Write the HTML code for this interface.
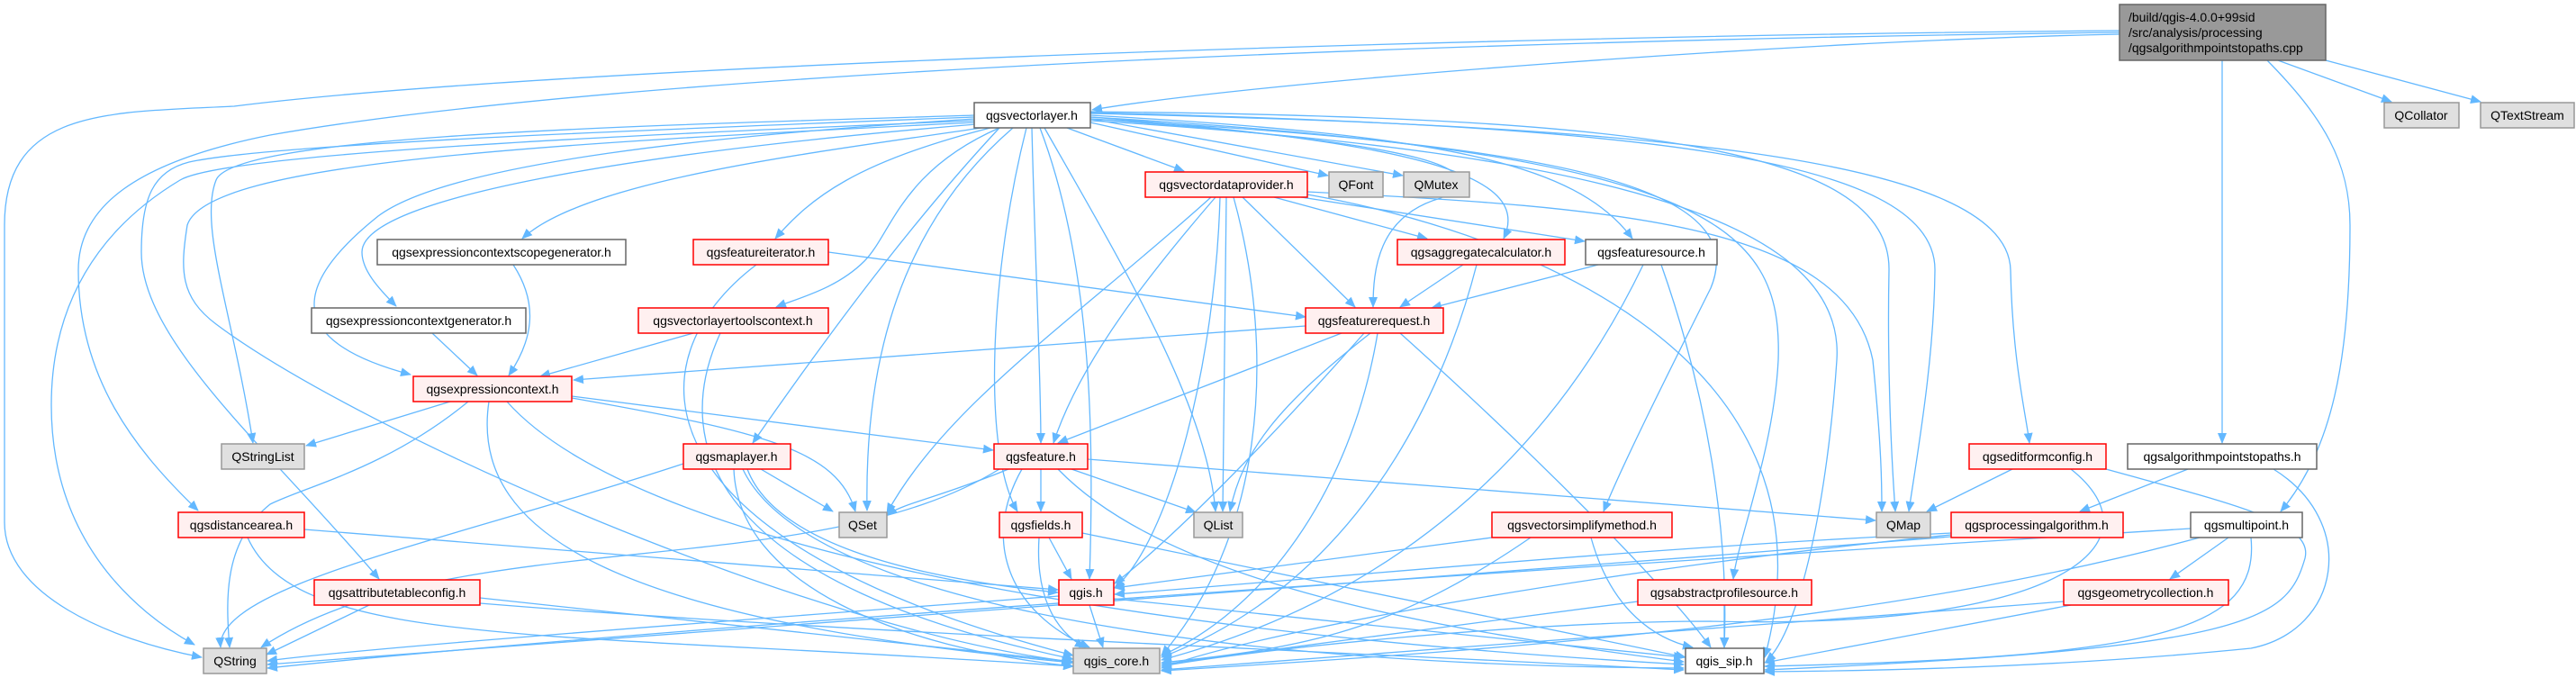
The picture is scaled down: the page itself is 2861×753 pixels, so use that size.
<!DOCTYPE html>
<html><head><meta charset="utf-8"><style>
html,body{margin:0;padding:0;background:#fff;width:2861px;height:753px;overflow:hidden}
svg{display:block}
text{font-family:"Liberation Sans",sans-serif;font-size:14px;fill:#000}
.e{fill:none;stroke:#63b8ff;stroke-width:1.3;marker-end:url(#a)}
.r{fill:#fff0f0;stroke:#ff0000;stroke-width:1.5}
.g{fill:#e0e0e0;stroke:#999;stroke-width:1.5}
.w{fill:#fff;stroke:#666;stroke-width:1.5}
.m{fill:#999;stroke:#666;stroke-width:1.5}
</style></head><body>
<svg width="2861" height="753" viewBox="0 0 2861 753">
<defs><marker id="a" markerUnits="userSpaceOnUse" markerWidth="12" markerHeight="10" refX="11" refY="5" orient="auto"><path d="M0,0 L12,5 L0,10 z" fill="#63b8ff"/></marker></defs>
<g>
<!-- main -->
<path class="e" d="M2354,38 C2000,45 1400,90 1213,122"/>
<path class="e" d="M2354,34 C1600,40 600,75 260,118 C120,125 5,120 5,250 L5,580 C5,660 120,710 224,730"/>
<path class="e" d="M2354,36 C1600,45 700,80 300,150 C150,180 87,230 87,300 C87,420 150,500 220,567"/>
<path class="e" d="M2530,67 L2656,113"/>
<path class="e" d="M2583,67 L2755,113"/>
<path class="e" d="M2468,67 L2468,492"/>
<path class="e" d="M2518,67 C2580,130 2610,180 2610,250 C2610,400 2590,500 2533,568"/>
<!-- vectorlayer -->
<path class="e" d="M1185,142 L1315,190"/>
<path class="e" d="M1211,136 L1475,195"/>
<path class="e" d="M1211,132 L1558,195"/>
<path class="e" d="M1211,130 C1600,160 1700,200 1670,265"/>
<path class="e" d="M1211,128 C1600,150 1750,180 1813,265"/>
<path class="e" d="M1211,132 C1600,160 1660,190 1600,220 C1530,240 1525,300 1525,341"/>
<path class="e" d="M1090,142 C900,170 650,200 580,265"/>
<path class="e" d="M1084,138 C700,170 402,220 402,280 C402,300 420,320 440,340"/>
<path class="e" d="M1100,142 C950,180 900,220 861,265"/>
<path class="e" d="M1110,142 C1000,190 990,260 960,290 C930,320 890,330 862,341"/>
<path class="e" d="M1082,132 C800,150 500,180 420,240 C320,320 320,380 456,416"/>
<path class="e" d="M1082,130 C700,145 300,160 210,180 C170,190 157,220 157,280 C157,380 300,500 421,643"/>
<path class="e" d="M1082,128 C700,140 260,150 240,200 C220,250 259,350 281,492"/>
<path class="e" d="M1082,134 C700,150 250,170 200,200 C150,230 57,300 57,450 C57,600 150,680 216,716"/>
<path class="e" d="M1082,136 C600,160 230,180 208,250 C200,300 200,330 240,360 C400,480 900,700 1190,735"/>
<path class="e" d="M1110,142 C1000,260 900,400 836,492"/>
<path class="e" d="M1125,142 C1000,250 960,400 963,567"/>
<path class="e" d="M1146,142 C1150,300 1156,420 1156,492"/>
<path class="e" d="M1140,142 C1100,300 1090,500 1130,568"/>
<path class="e" d="M1155,142 C1215,300 1215,500 1210,643"/>
<path class="e" d="M1160,142 C1250,300 1340,450 1350,568"/>
<path class="e" d="M1211,124 C1800,130 2100,160 2098,300 C2096,400 2100,500 2105,568"/>
<path class="e" d="M1211,125 C1800,140 2150,170 2149,300 C2148,400 2130,500 2120,568"/>
<path class="e" d="M1211,126 C1800,140 2230,170 2233,300 C2235,400 2250,460 2254,492"/>
<path class="e" d="M1211,132 C1700,160 1950,200 1900,320 C1850,420 1800,520 1781,568"/>
<path class="e" d="M1211,130 C1900,170 1980,250 1975,400 C1970,500 1930,600 1925,643"/>
<path class="e" d="M1211,134 C1800,170 2050,250 2040,400 C2030,550 2000,700 1961,735"/>
<!-- vectordataprovider -->
<path class="e" d="M1380,219 L1505,341"/>
<path class="e" d="M1415,219 L1585,265"/>
<path class="e" d="M1445,219 L1760,268"/>
<path class="e" d="M1452,213 C1800,230 2050,250 2080,400 C2090,500 2090,540 2090,568"/>
<path class="e" d="M1350,219 C1280,300 1200,400 1170,492"/>
<path class="e" d="M1345,219 C1200,350 1050,450 985,570"/>
<path class="e" d="M1362,219 L1358,568"/>
<path class="e" d="M1370,219 C1420,400 1400,600 1290,728"/>
<path class="e" d="M1452,216 C1700,260 2050,400 1960,730"/>
<path class="e" d="M1355,219 C1350,400 1300,600 1238,653"/>
<!-- featureiterator -->
<path class="e" d="M920,280 L1450,352"/>
<path class="e" d="M840,294 C700,400 700,600 1192,728"/>
<!-- vltc -->
<path class="e" d="M770,370 L600,418"/>
<path class="e" d="M800,370 C740,500 800,650 1192,732"/>
<!-- ecsg, ecg -->
<path class="e" d="M570,294 C600,340 590,380 565,417"/>
<path class="e" d="M480,370 L530,417"/>
<!-- aggregate -->
<path class="e" d="M1625,294 L1555,341"/>
<path class="e" d="M1640,294 C1600,450 1500,650 1290,730"/>
<!-- featuresource -->
<path class="e" d="M1775,294 L1590,342"/>
<path class="e" d="M1825,294 C1750,450 1600,650 1290,733"/>
<path class="e" d="M1845,294 C1900,450 1920,600 1915,719"/>
<!-- featurerequest -->
<path class="e" d="M1450,362 L637,422"/>
<path class="e" d="M1490,370 L1175,492"/>
<path class="e" d="M1522,370 C1420,450 1380,500 1366,568"/>
<path class="e" d="M1515,370 C1400,500 1300,600 1238,648"/>
<path class="e" d="M1530,370 C1500,550 1400,680 1290,728"/>
<path class="e" d="M1555,370 C1700,500 1850,650 1900,719"/>
<!-- expressioncontext -->
<path class="e" d="M500,446 L340,495"/>
<path class="e" d="M520,446 C430,520 340,540 300,560 C250,600 250,660 255,719"/>
<path class="e" d="M635,440 L1103,500"/>
<path class="e" d="M635,442 C850,480 930,500 950,568"/>
<path class="e" d="M543,446 C520,600 700,690 1192,736"/>
<path class="e" d="M563,446 C700,600 1200,700 1870,738"/>
<!-- maplayer -->
<path class="e" d="M759,515 C500,600 240,650 245,719"/>
<path class="e" d="M845,521 L925,568"/>
<path class="e" d="M830,521 C860,600 1000,640 1175,658"/>
<path class="e" d="M815,521 C820,650 1000,720 1192,740"/>
<path class="e" d="M825,521 C900,680 1400,740 1870,742"/>
<!-- feature -->
<path class="e" d="M1120,521 C1050,550 1000,560 985,572"/>
<path class="e" d="M1190,521 L1328,569"/>
<path class="e" d="M1156,521 L1156,568"/>
<path class="e" d="M1208,510 L2083,578"/>
<path class="e" d="M1135,521 C1090,600 1120,680 1210,719"/>
<path class="e" d="M1110,521 C900,650 500,580 290,719"/>
<path class="e" d="M1175,521 C1300,650 1600,700 1870,735"/>
<!-- fields -->
<path class="e" d="M1165,597 L1190,643"/>
<path class="e" d="M1154,597 C1150,660 1170,700 1205,719"/>
<path class="e" d="M1202,592 L1872,730"/>
<!-- distancearea -->
<path class="e" d="M338,588 L1175,655"/>
<path class="e" d="M275,597 C330,720 600,700 1192,740"/>
<!-- attributetableconfig -->
<path class="e" d="M410,672 L296,727"/>
<path class="e" d="M533,664 L1192,735"/>
<path class="e" d="M533,670 C900,700 1400,720 1870,744"/>
<!-- qgis.h -->
<path class="e" d="M1176,662 C800,690 400,720 297,734"/>
<path class="e" d="M1210,672 L1225,719"/>
<path class="e" d="M1237,665 L1870,730"/>
<!-- simplify -->
<path class="e" d="M1657,597 L1238,653"/>
<path class="e" d="M1700,597 C1550,700 1450,720 1290,736"/>
<path class="e" d="M1767,597 C1790,680 1840,710 1880,719"/>
<!-- abstractprofilesource -->
<path class="e" d="M1819,668 L1290,738"/>
<path class="e" d="M1915,672 L1915,719"/>
<!-- editformconfig -->
<path class="e" d="M2235,521 L2140,568"/>
<path class="e" d="M2300,521 C2400,600 2300,700 1900,690 C1700,690 1400,720 1290,740"/>
<path class="e" d="M2339,521 C2480,560 2570,580 2560,620 C2540,690 2500,720 1960,744"/>
<!-- processingalgorithm -->
<path class="e" d="M2167,592 C1800,610 1500,640 1238,660"/>
<path class="e" d="M2167,594 C1800,630 1400,700 1290,742"/>
<path class="e" d="M2167,596 C1500,650 800,700 297,738"/>
<!-- algorithmpointstopaths -->
<path class="e" d="M2430,521 L2310,568"/>
<path class="e" d="M2525,521 C2620,580 2600,700 2500,720 C2300,740 2100,745 1960,746"/>
<!-- multipoint -->
<path class="e" d="M2475,597 L2410,643"/>
<path class="e" d="M2433,587 C1900,620 800,690 297,742"/>
<path class="e" d="M2443,597 C2100,690 1700,720 1290,745"/>
<path class="e" d="M2500,597 C2510,700 2400,730 1960,740"/>
<!-- geometrycollection -->
<path class="e" d="M2292,668 C1900,700 1500,730 1290,744"/>
<path class="e" d="M2300,672 L1960,736"/>
</g>
<!-- nodes -->
<rect class="m" x="2354" y="5" width="229" height="62"/>
<text x="2364" y="24">/build/qgis-4.0.0+99sid</text>
<text x="2364" y="41">/src/analysis/processing</text>
<text x="2364" y="58">/qgsalgorithmpointstopaths.cpp</text>
<g text-anchor="middle">
<rect class="w" x="1082" y="114" width="129" height="28"/><text x="1146" y="133">qgsvectorlayer.h</text>
<rect class="g" x="2648" y="114" width="83" height="28"/><text x="2689" y="133">QCollator</text>
<rect class="g" x="2755" y="114" width="104" height="28"/><text x="2807" y="133">QTextStream</text>
<rect class="r" x="1272" y="191" width="180" height="28"/><text x="1362" y="210">qgsvectordataprovider.h</text>
<rect class="g" x="1476" y="191" width="60" height="28"/><text x="1506" y="210">QFont</text>
<rect class="g" x="1559" y="191" width="73" height="28"/><text x="1595" y="210">QMutex</text>
<rect class="w" x="419" y="266" width="276" height="28"/><text x="557" y="285">qgsexpressioncontextscopegenerator.h</text>
<rect class="r" x="770" y="266" width="150" height="28"/><text x="845" y="285">qgsfeatureiterator.h</text>
<rect class="r" x="1552" y="266" width="186" height="28"/><text x="1645" y="285">qgsaggregatecalculator.h</text>
<rect class="w" x="1761" y="266" width="146" height="28"/><text x="1834" y="285">qgsfeaturesource.h</text>
<rect class="w" x="346" y="342" width="238" height="28"/><text x="465" y="361">qgsexpressioncontextgenerator.h</text>
<rect class="r" x="709" y="342" width="211" height="28"/><text x="814" y="361">qgsvectorlayertoolscontext.h</text>
<rect class="r" x="1450" y="342" width="153" height="28"/><text x="1526" y="361">qgsfeaturerequest.h</text>
<rect class="r" x="459" y="418" width="176" height="28"/><text x="547" y="437">qgsexpressioncontext.h</text>
<rect class="g" x="246" y="493" width="92" height="28"/><text x="292" y="512">QStringList</text>
<rect class="r" x="759" y="493" width="119" height="28"/><text x="818" y="512">qgsmaplayer.h</text>
<rect class="r" x="1104" y="493" width="104" height="28"/><text x="1156" y="512">qgsfeature.h</text>
<rect class="r" x="2187" y="493" width="152" height="28"/><text x="2263" y="512">qgseditformconfig.h</text>
<rect class="w" x="2363" y="493" width="210" height="28"/><text x="2468" y="512">qgsalgorithmpointstopaths.h</text>
<rect class="r" x="198" y="569" width="140" height="28"/><text x="268" y="588">qgsdistancearea.h</text>
<rect class="g" x="932" y="569" width="53" height="28"/><text x="958" y="588">QSet</text>
<rect class="r" x="1110" y="569" width="92" height="28"/><text x="1156" y="588">qgsfields.h</text>
<rect class="g" x="1326" y="569" width="54" height="28"/><text x="1353" y="588">QList</text>
<rect class="r" x="1657" y="569" width="200" height="28"/><text x="1757" y="588">qgsvectorsimplifymethod.h</text>
<rect class="g" x="2084" y="569" width="60" height="28"/><text x="2114" y="588">QMap</text>
<rect class="r" x="2167" y="569" width="191" height="28"/><text x="2262" y="588">qgsprocessingalgorithm.h</text>
<rect class="w" x="2433" y="569" width="124" height="28"/><text x="2495" y="588">qgsmultipoint.h</text>
<rect class="r" x="349" y="644" width="184" height="28"/><text x="441" y="663">qgsattributetableconfig.h</text>
<rect class="r" x="1176" y="644" width="61" height="28"/><text x="1206" y="663">qgis.h</text>
<rect class="r" x="1819" y="644" width="193" height="28"/><text x="1915" y="663">qgsabstractprofilesource.h</text>
<rect class="r" x="2292" y="644" width="183" height="28"/><text x="2383" y="663">qgsgeometrycollection.h</text>
<rect class="g" x="226" y="720" width="70" height="28"/><text x="261" y="739">QString</text>
<rect class="g" x="1192" y="720" width="96" height="28"/><text x="1240" y="739">qgis_core.h</text>
<rect class="w" x="1872" y="720" width="87" height="28"/><text x="1915" y="739">qgis_sip.h</text>
</g>
</svg>
</body></html>
